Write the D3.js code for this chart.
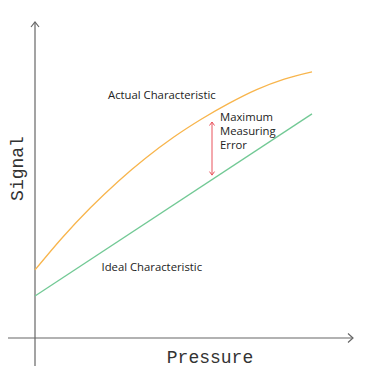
<!DOCTYPE html>
<html>
<head>
<meta charset="utf-8">
<script src="https://cdn.jsdelivr.net/npm/d3@7"></script>
<style>
  body { margin: 0; background: #fff; }
  svg { display: block; }
</style>
</head>
<body>
<script>
// Data (pressure 0..100, signal 0..100)
var pressure = [0, 10, 20, 30, 40, 50, 60, 70, 80, 90, 100];
var actualSignal = [22.7, 33.6, 43.4, 52.2, 60.0, 66.9, 72.9, 78.2, 82.8, 86.3, 88.7];
var idealPressure = [0, 100];
var idealSignal = [14, 74.7];
var errorPressure = 63.9;
var errorRange = [54.3, 72];

var width = 371, height = 380;

var svg = d3.select("body").append("svg")
  .attr("width", width)
  .attr("height", height);

// Scales
var xScale = d3.scaleLinear().domain([0, 100]).range([35, 312]);
var yScale = d3.scaleLinear().domain([0, 100]).range([338, 38]);

var axisColor = "#666";

// Axes (no ticks, just arrows)
var x0 = xScale(0), y0 = yScale(0);

svg.append("line")
  .attr("x1", x0).attr("y1", 366)
  .attr("x2", x0).attr("y2", 22)
  .attr("stroke", axisColor).attr("stroke-width", 1.2);
svg.append("path")
  .attr("d", "M" + (x0 - 4) + "," + 27 + "L" + x0 + "," + 22 + "L" + (x0 + 4) + "," + 27)
  .attr("fill", "none").attr("stroke", axisColor).attr("stroke-width", 1.2);

svg.append("line")
  .attr("x1", 8).attr("y1", y0)
  .attr("x2", 353).attr("y2", y0)
  .attr("stroke", axisColor).attr("stroke-width", 1.2);
svg.append("path")
  .attr("d", "M" + 348 + "," + (y0 - 4.5) + "L" + 353 + "," + y0 + "L" + 348 + "," + (y0 + 4.5))
  .attr("fill", "none").attr("stroke", axisColor).attr("stroke-width", 1.2);

// Lines
var line = d3.line()
  .x(function(d) { return xScale(d[0]); })
  .y(function(d) { return yScale(d[1]); })
  .curve(d3.curveMonotoneX);

svg.append("path")
  .datum(d3.zip(idealPressure, idealSignal))
  .attr("fill", "none")
  .attr("stroke", "#72c995")
  .attr("stroke-width", 1.3)
  .attr("d", line);

svg.append("path")
  .datum(d3.zip(pressure, actualSignal))
  .attr("fill", "none")
  .attr("stroke", "#f8b54c")
  .attr("stroke-width", 1.3)
  .attr("d", line);

// Error arrow
var ex = xScale(errorPressure);
var eTop = yScale(errorRange[1]), eBot = yScale(errorRange[0]);
var red = "#e9525c";
svg.append("line")
  .attr("x1", ex).attr("y1", eTop)
  .attr("x2", ex).attr("y2", eBot)
  .attr("stroke", red).attr("stroke-width", 1);
svg.append("path")
  .attr("d", "M" + (ex - 2.5) + "," + (eTop + 3.5) + "L" + ex + "," + eTop + "L" + (ex + 2.5) + "," + (eTop + 3.5))
  .attr("fill", "none").attr("stroke", red).attr("stroke-width", 1);
svg.append("path")
  .attr("d", "M" + (ex - 2.5) + "," + (eBot - 3.5) + "L" + ex + "," + eBot + "L" + (ex + 2.5) + "," + (eBot - 3.5))
  .attr("fill", "none").attr("stroke", red).attr("stroke-width", 1);

// Labels
var labelFont = "'Open Sans', 'Liberation Sans', Arial, sans-serif";
var labelSize = "11.3px";
svg.append("text")
  .attr("x", 108).attr("y", 98.5)
  .style("font-family", labelFont).style("font-size", labelSize)
  .attr("fill", "#222")
  .text("Actual Characteristic");

svg.append("text")
  .attr("x", 101.5).attr("y", 271)
  .style("font-family", labelFont).style("font-size", labelSize)
  .attr("fill", "#222")
  .text("Ideal Characteristic");

var errLines = ["Maximum", "Measuring", "Error"];
svg.selectAll(".err-label")
  .data(errLines)
  .enter().append("text")
  .attr("class", "err-label")
  .attr("x", 220)
  .attr("y", function(d, i) { return 120.5 + i * 14; })
  .style("font-family", labelFont).style("font-size", labelSize)
  .attr("fill", "#222")
  .text(function(d) { return d; });

// Axis titles
var monoFont = "'Liberation Mono', 'DejaVu Sans Mono', monospace";
svg.append("text")
  .attr("x", 210).attr("y", 363)
  .attr("text-anchor", "middle")
  .style("font-family", monoFont).style("font-size", "18px")
  .attr("fill", "#333")
  .text("Pressure");

svg.append("text")
  .attr("transform", "translate(22.5,168.5) rotate(-90)")
  .attr("text-anchor", "middle")
  .style("font-family", monoFont).style("font-size", "18px")
  .attr("fill", "#333")
  .text("Signal");
</script>
</body>
</html>
